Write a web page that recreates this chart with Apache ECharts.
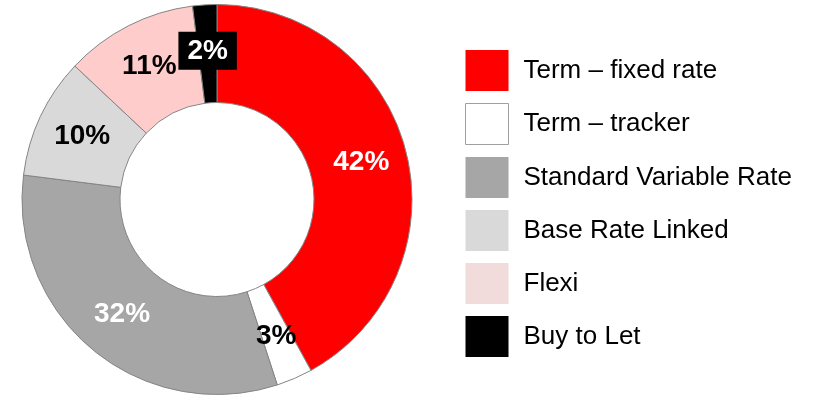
<!DOCTYPE html>
<html>
<head>
<meta charset="utf-8">
<script src="https://cdn.jsdelivr.net/npm/echarts@6/dist/echarts.min.js"></script>
<style>
  html, body { margin: 0; padding: 0; background: #ffffff; }
  #chart { width: 816px; height: 395px; }
</style>
</head>
<body>
<div id="chart"></div>
<script>
// Mortgage book split by product type (percent of balances)
const categories = ['Term – fixed rate', 'Term – tracker', 'Standard Variable Rate', 'Base Rate Linked', 'Flexi', 'Buy to Let'];
const shares = [42, 3, 32, 10, 11, 2];

const sliceColors = ['#ff0000', '#ffffff', '#a6a6a6', '#d9d9d9', '#ffcccc', '#000000'];
const legendColors = ['#ff0000', '#ffffff', '#a6a6a6', '#d9d9d9', '#f2dcdb', '#000000'];
const labelColors = ['#ffffff', '#000000', '#ffffff', '#000000', '#000000', '#ffffff'];

const font = "Arial, 'Liberation Sans', Helvetica, sans-serif";

const pieData = categories.map((name, i) => {
  const item = {
    name: name,
    value: shares[i],
    itemStyle: { color: sliceColors[i] },
    label: { color: labelColors[i] }
  };
  if (name === 'Buy to Let') {
    item.label.backgroundColor = '#000000';
    item.label.padding = [6, 9, 4, 9];
  }
  return item;
});

const legendData = categories.map((name, i) => {
  const it = { name: name, itemStyle: { color: legendColors[i], borderWidth: 0 } };
  if (name === 'Term – tracker') {
    it.itemStyle.borderWidth = 1;
    it.itemStyle.borderColor = '#a0a0a0';
  }
  return it;
});

const chart = echarts.init(document.getElementById('chart'), null, { renderer: 'canvas' });
chart.setOption({
  animation: false,
  backgroundColor: '#ffffff',
  legend: {
    orient: 'vertical',
    left: 465,
    top: 50,
    padding: 0,
    icon: 'rect',
    itemWidth: 43,
    itemHeight: 41,
    itemGap: 12,
    selectedMode: false,
    data: legendData,
    textStyle: {
      fontFamily: font,
      fontSize: 26,
      color: '#000000',
      padding: [0, 0, 0, 10]
    }
  },
  series: [{
    type: 'pie',
    center: [217, 199.5],
    radius: [97, 195],
    startAngle: 90,
    clockwise: true,
    avoidLabelOverlap: false,
    emphasis: { disabled: true },
    itemStyle: { borderColor: '#858585', borderWidth: 1 },
    label: {
      show: true,
      position: 'inside',
      formatter: '{c}%',
      fontFamily: font,
      fontSize: 28,
      fontWeight: 'bold'
    },
    labelLine: { show: false },
    data: pieData
  }]
});
</script>
</body>
</html>
